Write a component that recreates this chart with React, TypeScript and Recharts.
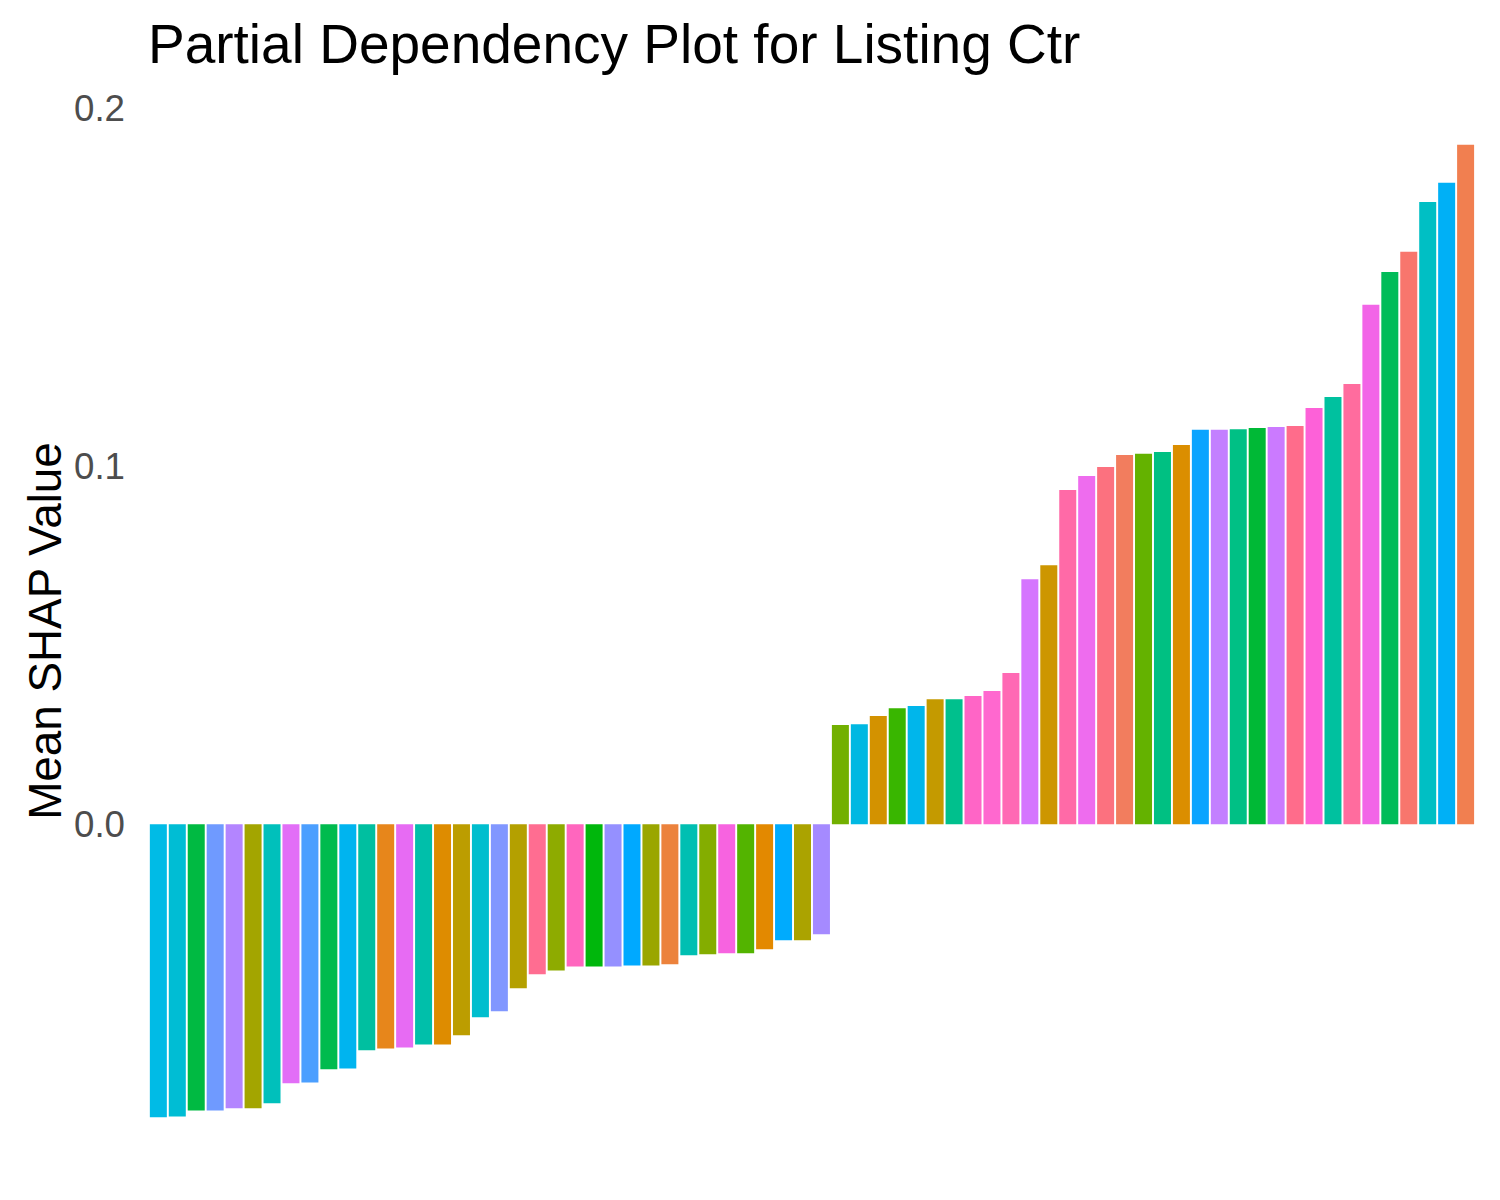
import React from "react";
import { BarChart, Bar, XAxis, YAxis, Cell } from "recharts";

const categories: string[] = Array.from({ length: 70 }, (_, i) => `F${i + 1}`);

const shapValues: number[] = [
  -0.0818, -0.0816, -0.0799, -0.0799, -0.0793, -0.0793, -0.0779, -0.0723, -0.0721, -0.0684,
  -0.0682, -0.0631, -0.0626, -0.0623, -0.0615, -0.0615, -0.0589, -0.0539, -0.0522, -0.0458,
  -0.0419, -0.0408, -0.0397, -0.0397, -0.0397, -0.0394, -0.0394, -0.0391, -0.0366, -0.0363,
  -0.036, -0.036, -0.0349, -0.0324, -0.0324, -0.0307,
  0.0277, 0.0279, 0.0302, 0.0324, 0.033, 0.0349, 0.0349, 0.0358, 0.0372, 0.0422,
  0.0684, 0.0723, 0.0933, 0.0972, 0.0997, 0.1031, 0.1034, 0.1039, 0.1059, 0.1101,
  0.1101, 0.1103, 0.1106, 0.1109, 0.1112, 0.1162, 0.1193, 0.1229, 0.145, 0.1542,
  0.1598, 0.1737, 0.1791, 0.1897,
];

const barColors: string[] = [
  "#00BBE6", "#00BDD4", "#00BA42", "#6F9AFF", "#B385FF", "#A3A500", "#00C0BB", "#E26EF7", "#4B9FFF", "#00BB4E",
  "#00B4EF", "#00BFA0", "#E7861B", "#E76BF3", "#00BFAA", "#DE8C00", "#BC9D00", "#00BECE", "#8197FF", "#B4A000",
  "#FF6D91", "#8EAB00", "#FF66BE", "#00B70C", "#9590FF", "#00A9FF", "#9AA600", "#EC823C", "#00BFB2", "#84AD00",
  "#F763E0", "#53B400", "#E38900", "#00ABFD", "#ABA300", "#A58AFF",
  "#72B000", "#00B8E2", "#D39200", "#39B600", "#00B6EB", "#C49A00", "#00C08D", "#FF65C6", "#FF68CF", "#FF69B4",
  "#D575FE", "#CD9600", "#FF6AA7", "#EE6CEE", "#FC717F", "#F27D5E", "#64B200", "#00C082", "#DB8E00", "#0AA4FF",
  "#C37FFF", "#00C085", "#00B936", "#CB7AFF", "#FF6C8B", "#FD61D8", "#00C19F", "#FF6C9E", "#F265E7", "#00BC59",
  "#F8766D", "#00BFC4", "#00B0F6", "#F17F50",
];

const yTicks: number[] = [0, 0.1, 0.2];
const yDomain: [number, number] = [-0.0954, 0.2033];

const titleText = "Partial Dependency Plot for Listing Ctr";
const yLabelText = "Mean SHAP Value";

const data = categories.map((c, i) => ({ name: c, value: shapValues[i] }));

const FONT = "'Liberation Sans', Arial, Helvetica, sans-serif";
const W = 1500;
const H = 1200;
const M = { top: 96, right: 23, bottom: 34, left: 0 };
const Y_AXIS_W = 147;

export default function App() {
  const panelCenterY = M.top + (H - M.top - M.bottom) / 2;
  return (
    <div style={{ position: "absolute", left: 0, top: 0, width: W, height: H, background: "#fff" }}>
      <BarChart width={W} height={H} data={data} margin={M} barCategoryGap="5%">
        <XAxis dataKey="name" hide padding={{ left: 1.9, right: 1.9 }} />
        <YAxis
          type="number"
          domain={yDomain}
          allowDataOverflow
          ticks={yTicks}
          width={Y_AXIS_W}
          axisLine={false}
          tickLine={false}
          tickSize={0}
          tickMargin={22}
          tickFormatter={(v: number) => v.toFixed(1)}
          tick={{ fill: "#4D4D4D", fontSize: 36.7, fontFamily: FONT }}
        />
        <Bar dataKey="value" isAnimationActive={false}>
          {data.map((d, i) => (
            <Cell key={d.name} fill={barColors[i]} />
          ))}
        </Bar>
      </BarChart>
      <svg
        width={W}
        height={H}
        style={{ position: "absolute", left: 0, top: 0, pointerEvents: "none" }}
      >
        <text x={148} y={63} fontSize={55} fontFamily={FONT} fill="#000">
          {titleText}
        </text>
        <text
          x={61}
          y={panelCenterY}
          transform={`rotate(-90, 61, ${panelCenterY})`}
          textAnchor="middle"
          fontSize={45.8}
          fontFamily={FONT}
          fill="#000"
        >
          {yLabelText}
        </text>
      </svg>
    </div>
  );
}
